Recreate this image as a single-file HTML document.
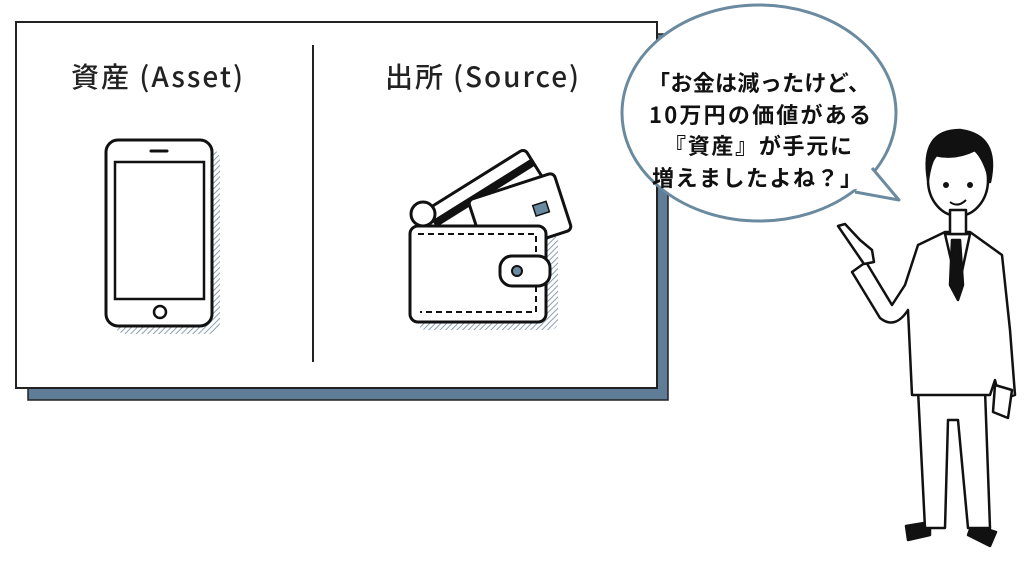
<!DOCTYPE html>
<html><head><meta charset="utf-8"><style>
body{margin:0;width:1024px;height:557px;background:#fff;overflow:hidden;font-family:"Liberation Sans","Noto Sans CJK JP",sans-serif}
</style></head><body>
<svg width="1024" height="557" viewBox="0 0 1024 557" xmlns="http://www.w3.org/2000/svg">
<defs><pattern id="h" width="4" height="4" patternUnits="userSpaceOnUse" patternTransform="rotate(45)"><line x1="0" y1="0" x2="0" y2="4" stroke="#7f96a8" stroke-width="1.8"/></pattern></defs>
<rect x="28" y="34" width="640" height="366" fill="#5f7d96" stroke="#222" stroke-width="1.5"/>
<rect x="16" y="22" width="641" height="366" fill="#fff" stroke="#222" stroke-width="2"/>
<line x1="313" y1="45" x2="313" y2="362" stroke="#222" stroke-width="2"/>
<text x="157" y="87" font-size="28" font-weight="500" text-anchor="middle" fill="#222" style="font-family:'Noto Sans CJK JP',sans-serif" textLength="172">資産 (Asset)</text>
<text x="482" y="87" font-size="28" font-weight="500" text-anchor="middle" fill="#222" style="font-family:'Noto Sans CJK JP',sans-serif" textLength="194">出所 (Source)</text>
<!-- phone -->
<rect x="114" y="148" width="106" height="186" rx="12" fill="url(#h)"/>
<rect x="106" y="140" width="106" height="186" rx="12" fill="#fff" stroke="#111" stroke-width="3"/>
<rect x="115" y="162" width="89" height="137" fill="#fff" stroke="#111" stroke-width="2.5"/>
<line x1="151" y1="151" x2="167" y2="151" stroke="#111" stroke-width="3" stroke-linecap="round"/>
<circle cx="160" cy="312" r="6" fill="none" stroke="#111" stroke-width="2.5"/>
<!-- wallet -->
<rect x="418" y="234" width="140" height="96" rx="8" fill="url(#h)"/>
<g transform="rotate(-32 480 200)"><rect x="430" y="180" width="115" height="60" rx="5" fill="#fff" stroke="#111" stroke-width="3"/><rect x="430" y="192" width="115" height="8" fill="#111"/></g>
<g transform="rotate(-18 520 215)"><rect x="475" y="185" width="90" height="60" rx="5" fill="#fff" stroke="#111" stroke-width="3"/><rect x="535" y="210" width="14" height="11" fill="#6a8aa0" stroke="#111" stroke-width="1.5"/></g>
<circle cx="423" cy="214" r="12" fill="#fff" stroke="#111" stroke-width="3"/>
<rect x="410" y="226" width="136" height="96" rx="8" fill="#fff" stroke="#111" stroke-width="3"/>
<path d="M418 234 H536 V312 H420" fill="none" stroke="#111" stroke-width="2" stroke-dasharray="6 4"/>
<rect x="500" y="256" width="50" height="30" rx="12" fill="#fff" stroke="#111" stroke-width="3"/>
<circle cx="517" cy="271" r="5" fill="#6a8aa0" stroke="#111" stroke-width="2"/>
<!-- bubble -->
<ellipse cx="759" cy="113" rx="137" ry="108" fill="#fff" stroke="#6a8aa0" stroke-width="3"/>
<path d="M872 168 L899 200 L855 192" fill="#fff" stroke="#6a8aa0" stroke-width="3" stroke-linejoin="round"/>
<path d="M866 165 L880 185 L850 190 Z" fill="#fff"/>
<g font-size="22" font-weight="bold" fill="#111" style="font-family:'Noto Sans CJK JP',sans-serif">
<text x="648" y="91" textLength="222">「お金は減ったけど、</text>
<text x="649" y="123" textLength="222">10万円の価値がある</text>
<text x="664" y="154" textLength="188">『資産』が手元に</text>
<text x="652" y="186" textLength="210">増えましたよね？」</text></g>
<!-- man -->
<g stroke="#111" stroke-width="2.5" fill="#fff" stroke-linejoin="round">
<path d="M930 535 L908 540 L906 526 L930 522Z M968 535 L990 546 L996 532 L972 524Z" fill="#111"/>
<path d="M918 390 L925 528 L945 528 L948 420 L958 420 L968 528 L990 528 L985 390Z"/>
<path d="M918 245 L905 285 L892 305 L866 262 L852 272 L880 318 Q895 330 908 310 L912 395 L990 395 L995 380 L1000 400 L1015 395 L1010 330 L1002 255 L970 232 L945 232Z"/>
<path d="M945 234 L958 290 L970 234Z" fill="#fff"/>
<path d="M952 240 L960 240 L963 285 L958 300 L950 285Z" fill="#111"/>
<path d="M864 264 L838 226 L845 224 L860 240 L872 250 L874 262 Z" />
<path d="M995 385 L1012 390 L1008 418 L993 412Z"/>
<ellipse cx="958" cy="180" rx="30" ry="36"/>
<rect x="950" y="210" width="16" height="24"/>
<path d="M928 180 Q920 130 960 130 Q1000 135 990 182 Q985 160 975 150 Q955 160 935 155 Q930 165 928 180Z" fill="#111"/>
</g>
<circle cx="946" cy="185" r="3" fill="#111"/><circle cx="970" cy="185" r="3" fill="#111"/>
<path d="M950 202 Q958 208 966 200" stroke="#111" stroke-width="2" fill="none"/>
</svg>
</body></html>
